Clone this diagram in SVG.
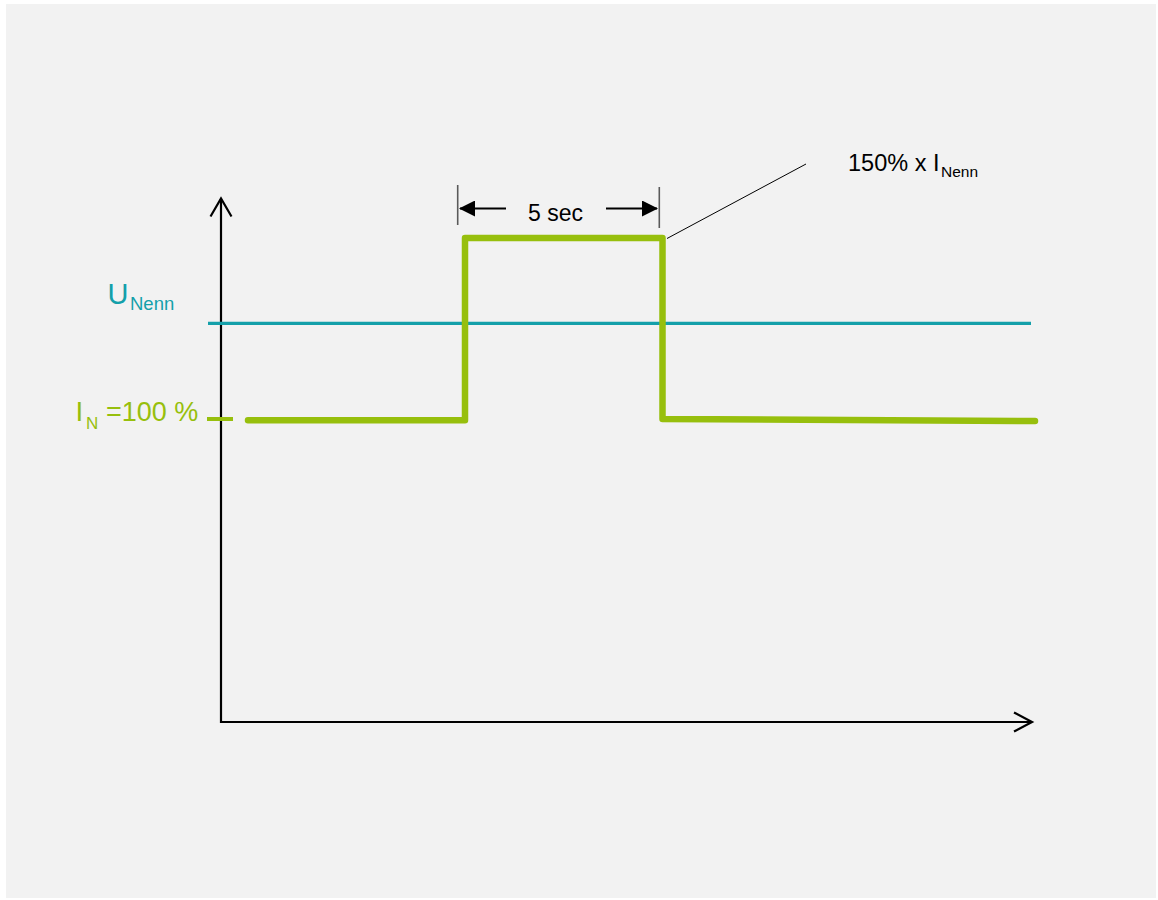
<svg xmlns="http://www.w3.org/2000/svg" width="1158" height="900" viewBox="0 0 1158 900">
  <defs>
    <style>
      .axis { stroke: #000; stroke-width: 2.2; fill: none; }
      .dim { stroke: #000; stroke-width: 2.2; fill: none; }
      .tick { stroke: #5a5a5a; stroke-width: 1.6; }
      .lbl { font-family: "Liberation Sans", Arial, sans-serif; }
      .green { fill: #97bf0d; }
      .teal { fill: #14a0aa; }
    </style>
    <marker id="dimhead" viewBox="0 0 16 16" refX="15" refY="8" markerWidth="16" markerHeight="16" markerUnits="userSpaceOnUse" orient="auto">
      <path d="M0,0 L16,8 L0,16 Z" fill="#000"/>
    </marker>
  </defs>

  <rect x="6" y="4" width="1150" height="894" fill="#f2f2f2"/>

  <g id="axes">
    <line class="axis" x1="221" y1="723" x2="221" y2="199"/>
    <polyline class="axis" points="210.5,216.5 221,198.5 231.5,216.5"/>
    <line class="axis" x1="220" y1="722" x2="1031" y2="722"/>
    <polyline class="axis" points="1014,712.5 1032,722 1014,731.5"/>
  </g>

  <g id="u-nenn-line">
    <line x1="208" y1="323.3" x2="1031" y2="323.3" stroke="#14a0aa" stroke-width="3.2"/>
  </g>

  <g id="current-curve">
    <line x1="207" y1="419" x2="233" y2="419" stroke="#97bf0d" stroke-width="4"/>
    <path d="M248,420.3 L465,420.3 L465,238 L662.5,238 L662.5,419 L1035,421" fill="none" stroke="#97bf0d" stroke-width="6.5" stroke-linejoin="round" stroke-linecap="round"/>
  </g>

  <g id="connectors">
    <line class="tick" x1="457.7" y1="185" x2="457.7" y2="225"/>
    <line class="tick" x1="659.3" y1="187" x2="659.3" y2="228"/>
    <line class="dim" x1="506" y1="208.5" x2="460" y2="208.5" marker-end="url(#dimhead)"/>
    <line class="dim" x1="606" y1="208.5" x2="657" y2="208.5" marker-end="url(#dimhead)"/>
    <line x1="667" y1="238.5" x2="806" y2="164" stroke="#000" stroke-width="1"/>
  </g>

  <g id="label-duration">
    <text class="lbl" x="528" y="221" font-size="23" fill="#000">5 sec</text>
  </g>

  <g id="label-peak">
    <text class="lbl" x="848" y="170.5" font-size="23.5" fill="#000">150% x I<tspan x="941" y="177" font-size="15.5">Nenn</tspan></text>
  </g>

  <g id="label-unenn">
    <text class="lbl teal" x="107.5" y="303.5" font-size="29">U<tspan x="130" y="309.5" font-size="18.5">Nenn</tspan></text>
  </g>

  <g id="label-in">
    <text class="lbl green" x="75.5" y="421" font-size="28">I<tspan x="86" y="428.5" font-size="17">N</tspan><tspan x="106" y="421" font-size="27">=100 %</tspan></text>
  </g>
</svg>
